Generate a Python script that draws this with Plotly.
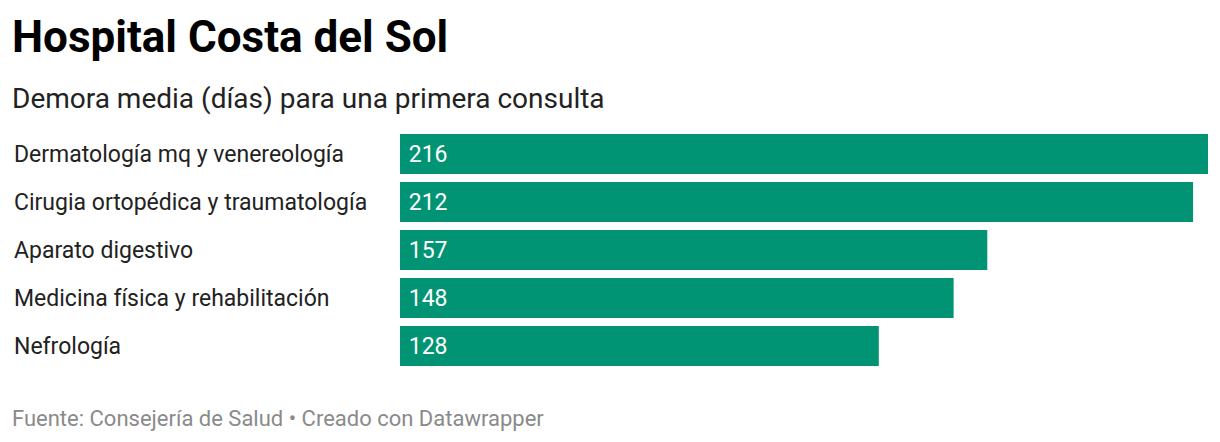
import plotly.graph_objects as go

categories = ["Dermatología mq y venereología", "Cirugia ortopédica y traumatología",
              "Aparato digestivo", "Medicina física y rehabilitación", "Nefrología"]
values = [216, 212, 157, 148, 128]

# page is drawn with an 8px body offset, so target positions are shifted by -8
W, H = 1220, 442
L, R, T, B = 392, 20, 122, 80
pw = W - L - R
ph = H - T - B

fig = go.Figure(go.Bar(
    x=values, y=categories, orientation="h",
    marker=dict(color="#009474", line=dict(width=0)),
    text=["\u00a0" + str(v) for v in values], textposition="inside", insidetextanchor="start",
    textfont=dict(color="white", size=23, family="Roboto"),
    hoverinfo="skip",
))

for c in categories:
    fig.add_annotation(x=-(L - 4) / pw, xref="paper", y=c, yref="y", text=c,
                       xanchor="left", showarrow=False,
                       font=dict(size=23, family="Roboto", color="#222"))

fig.add_annotation(x=-(L - 2) / pw, xref="paper", y=1 + (T - 29) / ph, yref="paper",
                   text="<b>Hospital Costa del Sol</b>", xanchor="left", yanchor="middle",
                   showarrow=False, font=dict(size=44, family="Roboto", color="#000"))
fig.add_annotation(x=-(L - 2) / pw, xref="paper", y=1 + (T - 90) / ph, yref="paper",
                   text="Demora media (días) para una primera consulta", xanchor="left",
                   yanchor="middle", showarrow=False,
                   font=dict(size=28, family="Roboto", color="#222"))
fig.add_annotation(x=-(L - 2) / pw, xref="paper", y=-(410 - (H - B)) / ph, yref="paper",
                   text="Fuente: Consejería de Salud • Creado con Datawrapper", xanchor="left",
                   yanchor="middle", showarrow=False,
                   font=dict(size=22, family="Roboto", color="#8a8a8a"))

fig.update_layout(
    width=W, height=H, margin=dict(l=L, r=R, t=T, b=B),
    plot_bgcolor="white", paper_bgcolor="white",
    bargap=8 / 48, showlegend=False,
    xaxis=dict(range=[0, 216], visible=False, fixedrange=True),
    yaxis=dict(autorange="reversed", showticklabels=False, showgrid=False,
               zeroline=False, fixedrange=True),
)

fig.write_html("out.html", config={"displayModeBar": False})
